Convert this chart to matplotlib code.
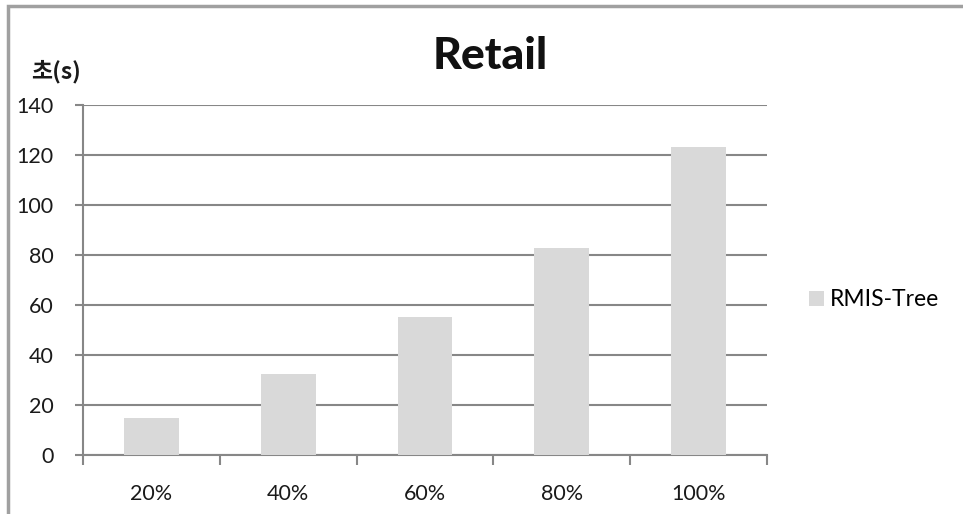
import matplotlib
matplotlib.use("Agg")
import matplotlib.pyplot as plt
from matplotlib.patches import Rectangle
import numpy as np

categories = ["20%", "40%", "60%", "80%", "100%"]
values = [14.8, 32.4, 55.2, 82.8, 123.2]
series_name = "RMIS-Tree"
title = "Retail"
y_label = "초(s)"
y_ticks = [0, 20, 40, 60, 80, 100, 120, 140]

plt.rcParams['font.family'] = ['Lato', 'Noto Sans CJK KR', 'DejaVu Sans']

W, H = 963, 514
fig = plt.figure(figsize=(W / 100, H / 100), dpi=100)
fig.patch.set_facecolor("white")

ax = fig.add_axes([83 / W, 1 - 455 / H, (767 - 83) / W, (455 - 105) / H])
x = np.arange(len(categories))
ax.bar(x, values, width=0.4, color="#D9D9D9", zorder=3, label=series_name)

ax.set_xlim(-0.5, len(categories) - 0.5)
ax.set_ylim(0, 140)
ax.set_yticks(y_ticks)
ax.set_yticklabels([str(t) for t in y_ticks], fontsize=15.5, color="#1a1a1a")
ax.yaxis.grid(True, color="#878787", linewidth=1.5, zorder=1)
ax.set_axisbelow(True)

ax.set_xticks(x)
ax.set_xticklabels(categories, fontsize=15.5, color="#1a1a1a")
ax.set_xticks(np.arange(len(categories) + 1) - 0.5, minor=True)
ax.tick_params(axis="x", which="major", length=0, pad=21)
ax.tick_params(axis="x", which="minor", length=7, width=1.5, color="#878787", direction="out")
ax.tick_params(axis="y", length=6, width=1.5, color="#878787", direction="out", pad=15)

for s in ["top", "right"]:
    ax.spines[s].set_visible(False)
for s in ["left", "bottom"]:
    ax.spines[s].set_color("#878787")
    ax.spines[s].set_linewidth(1.5)

fig.text(490 / W, 1 - 56 / H, title, fontsize=32, fontweight="black",
         ha="center", va="center", color="#111111")
fig.text(56 / W, 1 - 72 / H, y_label, fontsize=16.5, fontweight="bold",
         ha="center", va="center", color="#1a1a1a",
         family=['Noto Sans CJK KR', 'DejaVu Sans'])

leg = fig.legend(loc="center left", bbox_to_anchor=(800 / W, 1 - 300 / H),
                 frameon=False, fontsize=16.5, handlelength=0.65, handleheight=0.65,
                 handletextpad=0.25, borderaxespad=0)

fig.patches.append(Rectangle((8 / W, 0 - 0.1), 1.2, 1 - 6 / H + 0.1,
                             transform=fig.transFigure, fill=False,
                             edgecolor="#A0A0A0", linewidth=2.5))

fig.savefig("out.png", dpi=100, facecolor="white")
